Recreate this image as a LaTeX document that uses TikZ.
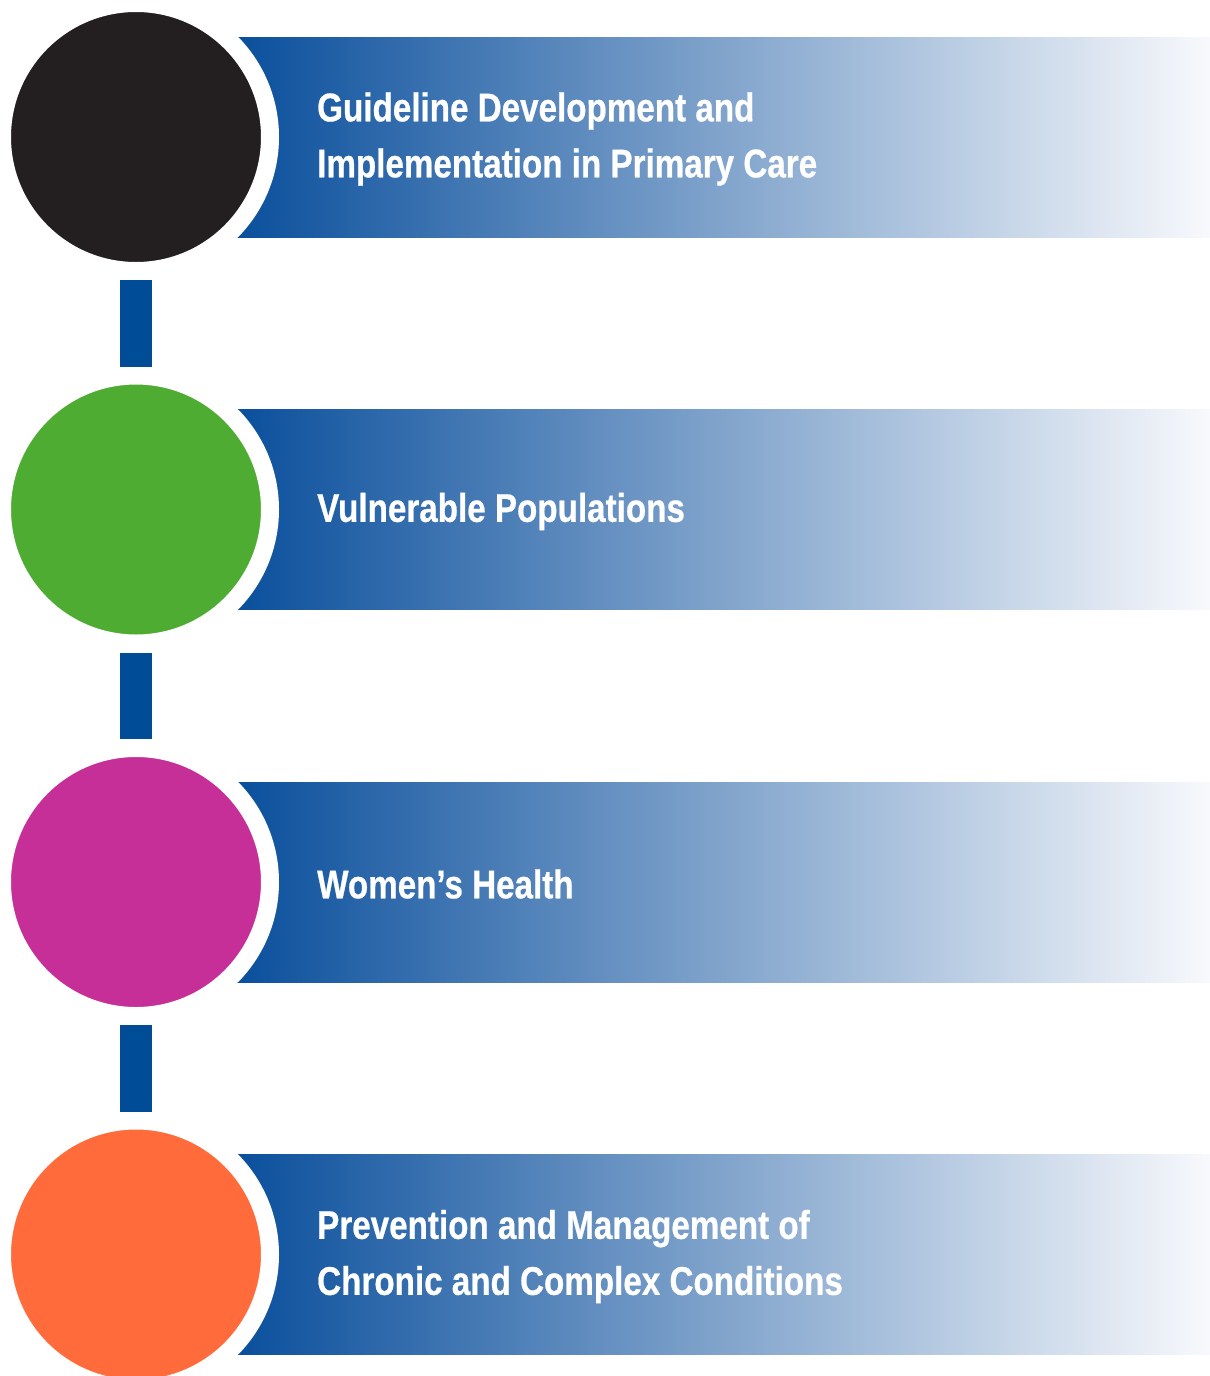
\documentclass[tikz,border=0pt]{standalone}
\usepackage{fontspec}
\setmainfont[FakeStretch=0.83,BoldFeatures={FakeBold=0.6}]{Liberation Sans}
\definecolor{barblue}{HTML}{004C97}
\definecolor{bandL}{HTML}{0A4F9C}
\definecolor{bandR}{HTML}{F8F9FC}
\definecolor{cblack}{HTML}{231F20}
\definecolor{cgreen}{HTML}{4FAC32}
\definecolor{cmag}{HTML}{C62F97}
\definecolor{corange}{HTML}{FF6B3A}
\begin{document}
\begin{tikzpicture}[x=1pt,y=-1pt,
  band/.style={anchor=west,minimum width=974pt,minimum height=200pt,inner sep=0pt,left color=bandL,right color=bandR,draw=none},
  label/.style={anchor=west,text=white,align=left,inner sep=0pt,font=\bfseries\fontsize{40}{56}\selectfont},
  disc/.style={circle,minimum size=268pt,inner sep=0pt,draw=white,line width=18pt,fill=#1},
  bar/.style={draw=barblue,line width=32pt}]
\useasboundingbox (0,0) rectangle (1210,1376);
\fill[white] (0,0) rectangle (1210,1376);
% bands
\node[band] (b1) at (236,137) {};
\node[band] (b2) at (236,509.5) {};
\node[band] (b3) at (236,882) {};
\node[band] (b4) at (236,1254.5) {};
% circles
\node[disc=cblack] (c1) at (136,137) {};
\node[disc=cgreen] (c2) at (136,509.5) {};
\node[disc=cmag] (c3) at (136,882) {};
\node[disc=corange] (c4) at (136,1254.5) {};
% connectors
\draw[bar] (c1) -- (c2);
\draw[bar] (c2) -- (c3);
\draw[bar] (c3) -- (c4);
% labels
\node[label] (t1) at (317,139) {Guideline Development and\\Implementation in Primary Care};
\node[label] (t2) at (317,511.5) {Vulnerable Populations};
\node[label] (t3) at (317,884) {Women’s Health};
\node[label] (t4) at (317,1256.5) {Prevention and Management of\\Chronic and Complex Conditions};
\end{tikzpicture}
\end{document}
